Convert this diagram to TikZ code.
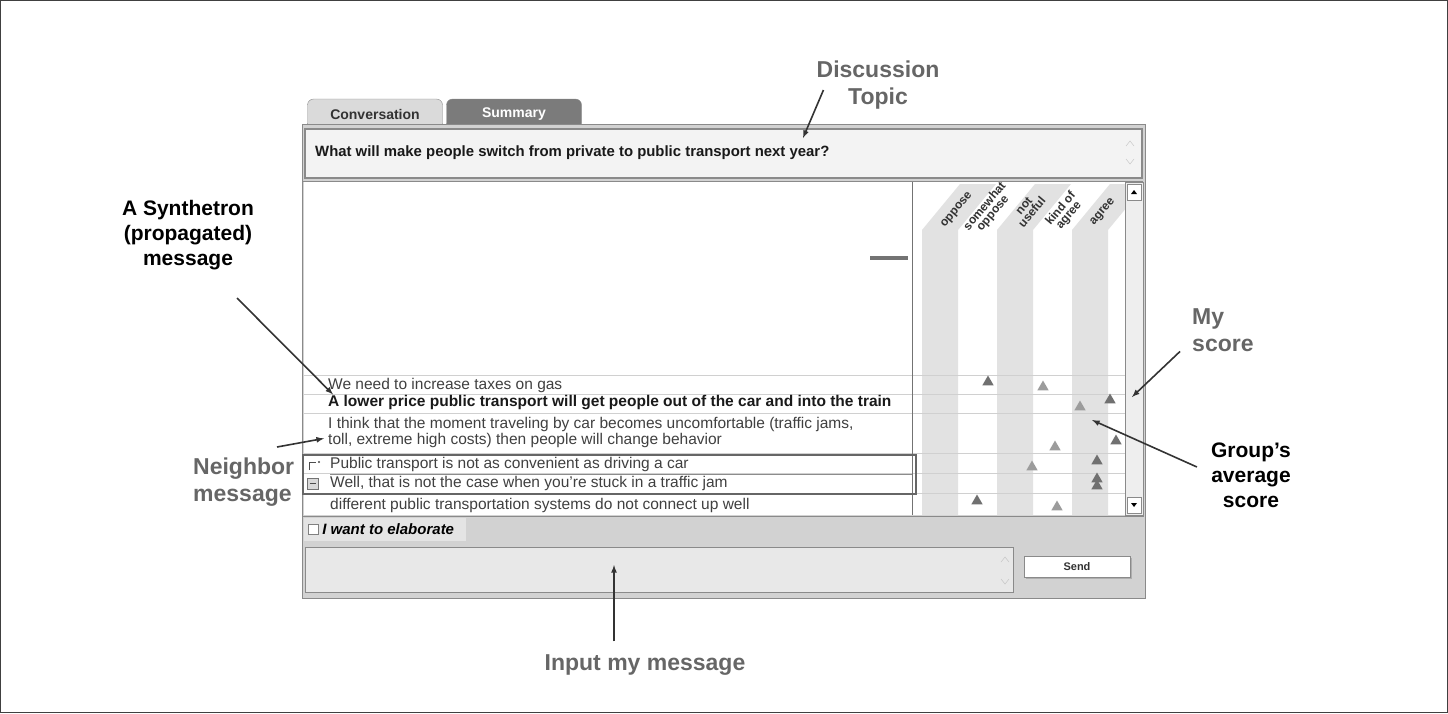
\documentclass[tikz,border=0pt]{standalone}
\usepackage{fontspec}
\setmainfont{Liberation Sans}
\usepackage{xcolor}
\definecolor{notegray}{HTML}{666666}
\definecolor{panel}{HTML}{D2D2D2}
\definecolor{frameline}{HTML}{8A8A8A}
\definecolor{column}{HTML}{E2E2E2}
\definecolor{tablight}{HTML}{DADADA}
\definecolor{tabdark}{HTML}{7B7B7B}
\definecolor{topicfill}{HTML}{F3F3F3}
\definecolor{inputfill}{HTML}{E8E8E8}
\definecolor{stripfill}{HTML}{E4E4E4}
\definecolor{scrollfill}{HTML}{EEEEEE}
\definecolor{rowline}{HTML}{D0D0D0}
\definecolor{markdark}{HTML}{707070}
\definecolor{marklight}{HTML}{9C9C9C}
\usepackage{tikz}
\usetikzlibrary{positioning,shapes,shadows,arrows}
\newcommand{\msgnode}[4]{
\node (#1) [#2] at (#3) {#4};}
\tikzstyle{note}=[font=\fontsize{21}{25}\selectfont\bfseries, text=black, align=center, inner sep=0pt]
\tikzstyle{graynote}=[note, font=\fontsize{23}{27}\selectfont\bfseries, text=notegray]
\tikzstyle{pointer}=[line width=1.6pt, black!80, ->, >=latex]
\tikzstyle{tab}=[draw=frameline, fill=tablight, rounded corners=6pt, minimum width=135pt, minimum height=30pt,
        font=\fontsize{14}{16}\selectfont\bfseries, text=black!80]
\tikzstyle{msg}=[anchor=west, inner sep=0pt, align=left, font=\fontsize{15.5}{16}\selectfont, text=black!75]
\tikzstyle{boldmsg}=[msg, font=\fontsize{15.5}{16}\selectfont\bfseries, text=black!90]
\tikzstyle{scorehead}=[rotate=50, align=center, inner sep=0pt, font=\fontsize{12}{10.5}\selectfont\bfseries, text=black!80]
\tikzstyle{scoremark}=[regular polygon, regular polygon sides=3, minimum size=13pt, inner sep=0pt, fill=markdark]
\tikzstyle{avgmark}=[scoremark, fill=marklight]

\begin{document}
\begin{tikzpicture}[x=1pt,y=-1pt]
\useasboundingbox (0,0) rectangle (1448,713);
\draw[black!75] (0.5,0.5) rectangle (1447.5,712.5);

\node (TabConversation) [tab] at (375,114) {Conversation};
\node (TabSummary) [tab, fill=tabdark, text=white] at (514,114) {Summary};
\draw[frameline, fill=panel] (302,124) rectangle (1145,598);

\draw[frameline, line width=1.2pt, fill=topicfill] (305,129) rectangle (1142,178);
\node (TopicText) [boldmsg, font=\fontsize{14.9}{16}\selectfont\bfseries] at (315,153)
  {What will make people switch from private to public transport next year?};
\draw[black!25] (1126,146) -- (1130,141) -- (1134,146) (1126,159) -- (1130,164) -- (1134,159);

\fill[white] (304,182) rectangle (1125,515);
\begin{scope}
\clip (913,182) rectangle (1125,515);
\foreach \cx in {922,997,1072}
  \fill[column] (\cx,515) -- (\cx,230) -- (\cx+38,184) -- (\cx+74,184) -- (\cx+36,230) -- (\cx+36,515) -- cycle;
\end{scope}
\foreach \ry in {375,394,413,453,473,493}
  \draw[rowline] (304,\ry) -- (1125,\ry);
\draw[frameline] (303,181) -- (1143,181);
\draw[black!55, line width=1pt] (912,182) -- (912,515);
\draw[line width=4pt, black!55] (870,258) -- (908,258);

\node (HeadOppose) [scorehead] at (957,210) {oppose};
\node (HeadSomewhat) [scorehead] at (989,210) {somewhat\\oppose};
\node (HeadNotUseful) [scorehead] at (1028,209) {not\\useful};
\node (HeadKindAgree) [scorehead] at (1065,212) {kind of\\agree};
\node (HeadAgree) [scorehead] at (1103,212) {agree};

\draw[frameline, fill=scrollfill] (1125,182) rectangle (1143,515);
\draw[frameline, fill=white] (1127,184) rectangle (1141,200);
\draw[frameline, fill=white] (1127,497) rectangle (1141,513);
\fill[black] (1131,194) -- (1137,194) -- (1134,190) -- cycle;
\fill[black] (1131,503) -- (1137,503) -- (1134,507) -- cycle;

\msgnode{MsgTaxes}{msg}{328,385}{We need to increase taxes on gas}
\msgnode{MsgSynth}{boldmsg}{328,403}{A lower price public transport will get people out of the car and into the train}
\msgnode{MsgThink}{msg}{328,432}{I think that the moment traveling by car becomes uncomfortable (traffic jams,\\toll, extreme high costs) then people will change behavior}
\msgnode{MsgPublic}{msg}{330,464}{Public transport is not as convenient as driving a car}
\msgnode{MsgWell}{msg}{330,483}{Well, that is not the case when you're stuck in a traffic jam}
\msgnode{MsgConnect}{msg}{330,505}{different public transportation systems do not connect up well}

\draw[black!60, line width=1.4pt] (303,455) rectangle (916,494);
\draw[black!45] (330,474) -- (912,474);
\draw[black!70, line width=1pt] (309,470) -- (309,462) -- (316,462);
\fill[black!70] (319,462) circle (1.2pt);
\draw[black!55, fill=black!15] (307,478) rectangle (318,489);
\draw[black!70, line width=1pt] (309.5,483.5) -- (315.5,483.5);

\foreach \n/\s/\x/\y in {MarkTaxesMine/scoremark/988/382, MarkTaxesAvg/avgmark/1043/387,
    MarkSynthMine/scoremark/1110/400, MarkSynthAvg/avgmark/1080/407,
    MarkThinkMine/scoremark/1116/441, MarkThinkAvg/avgmark/1055/447,
    MarkPublicMine/scoremark/1097/461, MarkPublicAvg/avgmark/1032/467,
    MarkWellAvg/scoremark/1097/486, MarkWellMine/scoremark/1097/479,
    MarkConnectMine/scoremark/977/501, MarkConnectAvg/avgmark/1057/507}
  \node (\n) [\s] at (\x,\y) {};

\draw[frameline] (303,516) -- (1144,516);
\fill[stripfill] (304,518) rectangle (466,541);
\node (ElabBox) [draw=black!50, fill=white, minimum size=10pt, inner sep=0pt] at (313,529) {};
\node (ElabText) [right=4pt of ElabBox, inner sep=0pt, font=\fontsize{15}{16}\selectfont\bfseries\itshape] {I want to elaborate};
\node (InputBox) [draw=frameline, fill=inputfill, minimum width=708pt, minimum height=45pt, inner sep=0pt] at (659,570) {};
\draw[black!25] (1001,562) -- (1005,557) -- (1009,562) (1001,579) -- (1005,584) -- (1009,579);
\node (SendButton) [draw=frameline, fill=white, minimum width=106pt, minimum height=21pt,
  font=\fontsize{11}{12}\selectfont\bfseries, text=black!80,
  drop shadow={shadow xshift=1.5pt, shadow yshift=-1.5pt, fill=black!45}] at (1077,567) {Send};

\node (DiscussionTopic) [graynote] at (878,85) {Discussion\\Topic};
\node (Synthetron) [note] at (188,235) {A Synthetron\\(propagated)\\message};
\node (Neighbor) [graynote, align=left, anchor=west] at (193,482) {Neighbor\\message};
\node (MyScore) [graynote, align=left, anchor=north west] at (1192,308) {My\\score};
\node (GroupAvg) [note] at (1251,475) {Group's\\average\\score};
\node (InputNote) [graynote] at (645,665) {Input my message};

\coordinate (TopicTip) at (803,138);
\coordinate (MyScoreTip) at (1132,397);
\coordinate (GroupTip) at (1092,420);
\coordinate (InputTip) at (614,565);

\draw[pointer] ([shift={(7,5)}]DiscussionTopic.west) -- (TopicTip);
\draw[pointer] ([shift={(49,28)}]Synthetron.south) -- ([shift={(5,2)}]MsgTaxes.south west);
\draw[pointer] ([shift={(84,-35)}]Neighbor.west) -- ([shift={(-4,-9)}]MsgThink.south west);
\draw[pointer] ([shift={(-12,0)}]MyScore.south west) -- (MyScoreTip);
\draw[pointer] ([shift={(-14,-8)}]GroupAvg.west) -- (GroupTip);
\draw[pointer] ([shift={(-31,-13)}]InputNote.north) -- (InputTip);

\end{tikzpicture}
\end{document}
